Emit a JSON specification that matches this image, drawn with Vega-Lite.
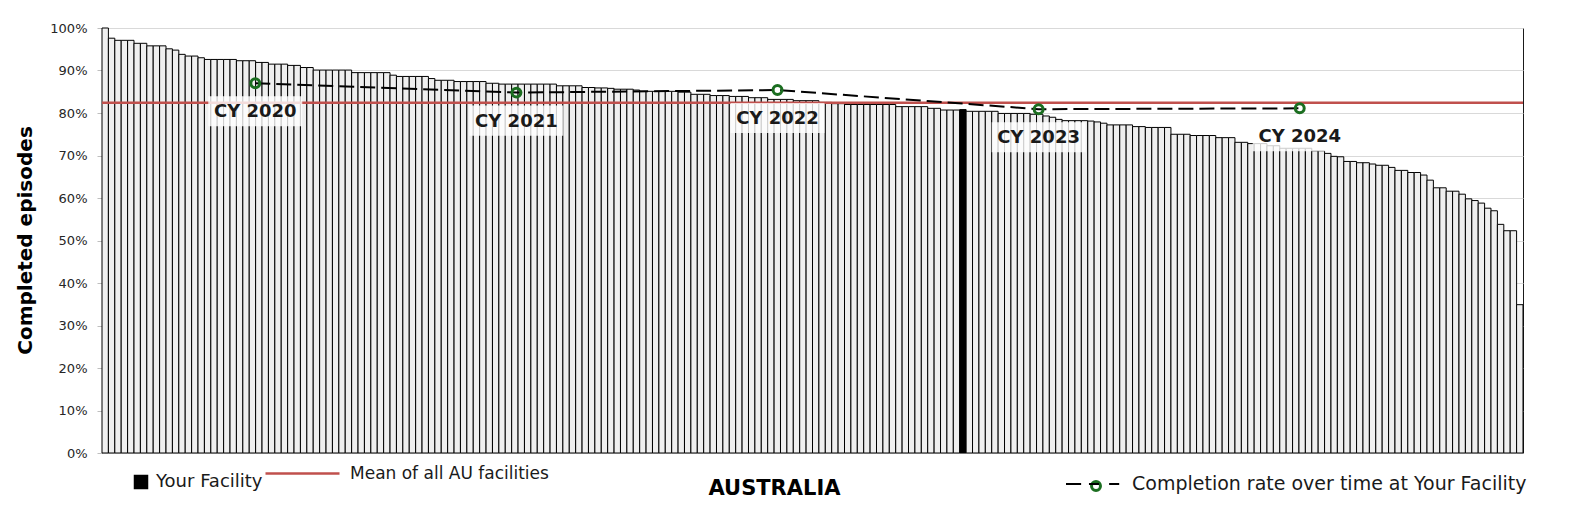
{
  "$schema": "https://vega.github.io/schema/vega-lite/v6.json",
  "width": 1421,
  "height": 425,
  "autosize": {"type": "none"},
  "padding": {"left": 102, "top": 28, "right": 53, "bottom": 75},
  "background": "#ffffff",
  "config": {
    "font": "DejaVu Sans",
    "view": {"stroke": "#1a1a1a", "strokeWidth": 1},
    "legend": {"padding": 0, "labelFont": "DejaVu Sans", "labelFontSize": 18, "labelColor": "#1a1a1a", "labelLimit": 600}
  },
  "datasets": {
    "facilities": [
      {"rank":1,"rate":100,"group":"Other"},{"rank":2,"rate":97.6,"group":"Other"},{"rank":3,"rate":97.1,"group":"Other"},{"rank":4,"rate":97.1,"group":"Other"},{"rank":5,"rate":97.1,"group":"Other"},{"rank":6,"rate":96.4,"group":"Other"},{"rank":7,"rate":96.4,"group":"Other"},{"rank":8,"rate":95.8,"group":"Other"},{"rank":9,"rate":95.8,"group":"Other"},{"rank":10,"rate":95.8,"group":"Other"},
      {"rank":11,"rate":95.1,"group":"Other"},{"rank":12,"rate":94.8,"group":"Other"},{"rank":13,"rate":93.8,"group":"Other"},{"rank":14,"rate":93.4,"group":"Other"},{"rank":15,"rate":93.4,"group":"Other"},{"rank":16,"rate":93.0,"group":"Other"},{"rank":17,"rate":92.6,"group":"Other"},{"rank":18,"rate":92.6,"group":"Other"},{"rank":19,"rate":92.6,"group":"Other"},{"rank":20,"rate":92.6,"group":"Other"},
      {"rank":21,"rate":92.6,"group":"Other"},{"rank":22,"rate":92.3,"group":"Other"},{"rank":23,"rate":92.3,"group":"Other"},{"rank":24,"rate":92.3,"group":"Other"},{"rank":25,"rate":91.9,"group":"Other"},{"rank":26,"rate":91.9,"group":"Other"},{"rank":27,"rate":91.5,"group":"Other"},{"rank":28,"rate":91.5,"group":"Other"},{"rank":29,"rate":91.5,"group":"Other"},{"rank":30,"rate":91.2,"group":"Other"},
      {"rank":31,"rate":91.2,"group":"Other"},{"rank":32,"rate":90.7,"group":"Other"},{"rank":33,"rate":90.7,"group":"Other"},{"rank":34,"rate":90.1,"group":"Other"},{"rank":35,"rate":90.1,"group":"Other"},{"rank":36,"rate":90.1,"group":"Other"},{"rank":37,"rate":90.1,"group":"Other"},{"rank":38,"rate":90.1,"group":"Other"},{"rank":39,"rate":90.1,"group":"Other"},{"rank":40,"rate":89.5,"group":"Other"},
      {"rank":41,"rate":89.5,"group":"Other"},{"rank":42,"rate":89.5,"group":"Other"},{"rank":43,"rate":89.5,"group":"Other"},{"rank":44,"rate":89.5,"group":"Other"},{"rank":45,"rate":89.5,"group":"Other"},{"rank":46,"rate":88.9,"group":"Other"},{"rank":47,"rate":88.6,"group":"Other"},{"rank":48,"rate":88.6,"group":"Other"},{"rank":49,"rate":88.6,"group":"Other"},{"rank":50,"rate":88.6,"group":"Other"},
      {"rank":51,"rate":88.6,"group":"Other"},{"rank":52,"rate":88.1,"group":"Other"},{"rank":53,"rate":87.7,"group":"Other"},{"rank":54,"rate":87.7,"group":"Other"},{"rank":55,"rate":87.7,"group":"Other"},{"rank":56,"rate":87.4,"group":"Other"},{"rank":57,"rate":87.4,"group":"Other"},{"rank":58,"rate":87.4,"group":"Other"},{"rank":59,"rate":87.4,"group":"Other"},{"rank":60,"rate":87.4,"group":"Other"},
      {"rank":61,"rate":87.0,"group":"Other"},{"rank":62,"rate":87.0,"group":"Other"},{"rank":63,"rate":86.8,"group":"Other"},{"rank":64,"rate":86.8,"group":"Other"},{"rank":65,"rate":86.8,"group":"Other"},{"rank":66,"rate":86.8,"group":"Other"},{"rank":67,"rate":86.8,"group":"Other"},{"rank":68,"rate":86.8,"group":"Other"},{"rank":69,"rate":86.8,"group":"Other"},{"rank":70,"rate":86.8,"group":"Other"},
      {"rank":71,"rate":86.8,"group":"Other"},{"rank":72,"rate":86.4,"group":"Other"},{"rank":73,"rate":86.4,"group":"Other"},{"rank":74,"rate":86.4,"group":"Other"},{"rank":75,"rate":86.4,"group":"Other"},{"rank":76,"rate":86.0,"group":"Other"},{"rank":77,"rate":86.0,"group":"Other"},{"rank":78,"rate":85.9,"group":"Other"},{"rank":79,"rate":85.9,"group":"Other"},{"rank":80,"rate":85.8,"group":"Other"},
      {"rank":81,"rate":85.6,"group":"Other"},{"rank":82,"rate":85.6,"group":"Other"},{"rank":83,"rate":85.6,"group":"Other"},{"rank":84,"rate":85.4,"group":"Other"},{"rank":85,"rate":85.1,"group":"Other"},{"rank":86,"rate":85.1,"group":"Other"},{"rank":87,"rate":85.1,"group":"Other"},{"rank":88,"rate":85.1,"group":"Other"},{"rank":89,"rate":85.1,"group":"Other"},{"rank":90,"rate":85.1,"group":"Other"},
      {"rank":91,"rate":84.9,"group":"Other"},{"rank":92,"rate":84.9,"group":"Other"},{"rank":93,"rate":84.4,"group":"Other"},{"rank":94,"rate":84.4,"group":"Other"},{"rank":95,"rate":84.4,"group":"Other"},{"rank":96,"rate":84.1,"group":"Other"},{"rank":97,"rate":84.1,"group":"Other"},{"rank":98,"rate":84.1,"group":"Other"},{"rank":99,"rate":83.9,"group":"Other"},{"rank":100,"rate":83.9,"group":"Other"},
      {"rank":101,"rate":83.9,"group":"Other"},{"rank":102,"rate":83.6,"group":"Other"},{"rank":103,"rate":83.6,"group":"Other"},{"rank":104,"rate":83.6,"group":"Other"},{"rank":105,"rate":83.2,"group":"Other"},{"rank":106,"rate":83.2,"group":"Other"},{"rank":107,"rate":83.2,"group":"Other"},{"rank":108,"rate":83.2,"group":"Other"},{"rank":109,"rate":82.9,"group":"Other"},{"rank":110,"rate":82.9,"group":"Other"},
      {"rank":111,"rate":82.9,"group":"Other"},{"rank":112,"rate":82.9,"group":"Other"},{"rank":113,"rate":82.5,"group":"Other"},{"rank":114,"rate":82.5,"group":"Other"},{"rank":115,"rate":82.2,"group":"Other"},{"rank":116,"rate":82.2,"group":"Other"},{"rank":117,"rate":82.0,"group":"Other"},{"rank":118,"rate":82.0,"group":"Other"},{"rank":119,"rate":82.0,"group":"Other"},{"rank":120,"rate":82.0,"group":"Other"},
      {"rank":121,"rate":82.0,"group":"Other"},{"rank":122,"rate":82.0,"group":"Other"},{"rank":123,"rate":82.0,"group":"Other"},{"rank":124,"rate":82.0,"group":"Other"},{"rank":125,"rate":81.5,"group":"Other"},{"rank":126,"rate":81.5,"group":"Other"},{"rank":127,"rate":81.5,"group":"Other"},{"rank":128,"rate":81.5,"group":"Other"},{"rank":129,"rate":81.5,"group":"Other"},{"rank":130,"rate":81.1,"group":"Other"},
      {"rank":131,"rate":81.1,"group":"Other"},{"rank":132,"rate":80.7,"group":"Other"},{"rank":133,"rate":80.7,"group":"Other"},{"rank":134,"rate":80.7,"group":"Other"},{"rank":135,"rate":80.8,"group":"Your Facility"},{"rank":136,"rate":80.4,"group":"Other"},{"rank":137,"rate":80.4,"group":"Other"},{"rank":138,"rate":80.4,"group":"Other"},{"rank":139,"rate":80.4,"group":"Other"},{"rank":140,"rate":80.4,"group":"Other"},
      {"rank":141,"rate":79.9,"group":"Other"},{"rank":142,"rate":79.9,"group":"Other"},{"rank":143,"rate":79.9,"group":"Other"},{"rank":144,"rate":79.9,"group":"Other"},{"rank":145,"rate":79.9,"group":"Other"},{"rank":146,"rate":79.7,"group":"Other"},{"rank":147,"rate":79.7,"group":"Other"},{"rank":148,"rate":79.3,"group":"Other"},{"rank":149,"rate":79.0,"group":"Other"},{"rank":150,"rate":78.5,"group":"Other"},
      {"rank":151,"rate":78.2,"group":"Other"},{"rank":152,"rate":78.2,"group":"Other"},{"rank":153,"rate":78.2,"group":"Other"},{"rank":154,"rate":78.2,"group":"Other"},{"rank":155,"rate":78.1,"group":"Other"},{"rank":156,"rate":77.9,"group":"Other"},{"rank":157,"rate":77.6,"group":"Other"},{"rank":158,"rate":77.2,"group":"Other"},{"rank":159,"rate":77.2,"group":"Other"},{"rank":160,"rate":77.2,"group":"Other"},
      {"rank":161,"rate":77.2,"group":"Other"},{"rank":162,"rate":76.8,"group":"Other"},{"rank":163,"rate":76.8,"group":"Other"},{"rank":164,"rate":76.6,"group":"Other"},{"rank":165,"rate":76.6,"group":"Other"},{"rank":166,"rate":76.6,"group":"Other"},{"rank":167,"rate":76.6,"group":"Other"},{"rank":168,"rate":75.0,"group":"Other"},{"rank":169,"rate":75.0,"group":"Other"},{"rank":170,"rate":75.0,"group":"Other"},
      {"rank":171,"rate":74.7,"group":"Other"},{"rank":172,"rate":74.7,"group":"Other"},{"rank":173,"rate":74.7,"group":"Other"},{"rank":174,"rate":74.7,"group":"Other"},{"rank":175,"rate":74.2,"group":"Other"},{"rank":176,"rate":74.2,"group":"Other"},{"rank":177,"rate":74.2,"group":"Other"},{"rank":178,"rate":73.1,"group":"Other"},{"rank":179,"rate":73.1,"group":"Other"},{"rank":180,"rate":72.8,"group":"Other"},
      {"rank":181,"rate":72.8,"group":"Other"},{"rank":182,"rate":72.8,"group":"Other"},{"rank":183,"rate":72.3,"group":"Other"},{"rank":184,"rate":72.3,"group":"Other"},{"rank":185,"rate":71.7,"group":"Other"},{"rank":186,"rate":71.7,"group":"Other"},{"rank":187,"rate":71.7,"group":"Other"},{"rank":188,"rate":71.7,"group":"Other"},{"rank":189,"rate":71.7,"group":"Other"},{"rank":190,"rate":71.1,"group":"Other"},
      {"rank":191,"rate":71.1,"group":"Other"},{"rank":192,"rate":70.5,"group":"Other"},{"rank":193,"rate":69.8,"group":"Other"},{"rank":194,"rate":69.7,"group":"Other"},{"rank":195,"rate":68.6,"group":"Other"},{"rank":196,"rate":68.6,"group":"Other"},{"rank":197,"rate":68.3,"group":"Other"},{"rank":198,"rate":68.3,"group":"Other"},{"rank":199,"rate":68.0,"group":"Other"},{"rank":200,"rate":67.7,"group":"Other"},
      {"rank":201,"rate":67.7,"group":"Other"},{"rank":202,"rate":67.2,"group":"Other"},{"rank":203,"rate":66.5,"group":"Other"},{"rank":204,"rate":66.5,"group":"Other"},{"rank":205,"rate":66.0,"group":"Other"},{"rank":206,"rate":66.0,"group":"Other"},{"rank":207,"rate":65.4,"group":"Other"},{"rank":208,"rate":64.2,"group":"Other"},{"rank":209,"rate":62.4,"group":"Other"},{"rank":210,"rate":62.4,"group":"Other"},
      {"rank":211,"rate":61.6,"group":"Other"},{"rank":212,"rate":61.6,"group":"Other"},{"rank":213,"rate":60.9,"group":"Other"},{"rank":214,"rate":59.8,"group":"Other"},{"rank":215,"rate":59.4,"group":"Other"},{"rank":216,"rate":58.8,"group":"Other"},{"rank":217,"rate":57.6,"group":"Other"},{"rank":218,"rate":57.0,"group":"Other"},{"rank":219,"rate":53.8,"group":"Other"},{"rank":220,"rate":52.3,"group":"Other"},
      {"rank":221,"rate":52.3,"group":"Other"},{"rank":222,"rate":34.9,"group":"Other"}
    ],
    "mean": [{"rate": 82.4, "label": "Mean of all AU facilities"}],
    "trend": [
      {"year": 2020, "rate": 87.0, "cy": "CY 2020", "series": "Completion rate over time at Your Facility"},
      {"year": 2021, "rate": 84.8, "cy": "CY 2021", "series": "Completion rate over time at Your Facility"},
      {"year": 2022, "rate": 85.4, "cy": "CY 2022", "series": "Completion rate over time at Your Facility"},
      {"year": 2023, "rate": 80.9, "cy": "CY 2023", "series": "Completion rate over time at Your Facility"},
      {"year": 2024, "rate": 81.1, "cy": "CY 2024", "series": "Completion rate over time at Your Facility"}
    ]
  },
  "resolve": {"scale": {"x": "independent", "stroke": "independent"}},
  "layer": [
    {
      "data": {"name": "facilities"},
      "mark": {"type": "bar", "stroke": "#000000", "strokeWidth": 1},
      "encoding": {
        "x": {
          "field": "rank", "type": "ordinal", "sort": null,
          "scale": {"paddingInner": 0, "paddingOuter": 0},
          "axis": {"labels": false, "ticks": false, "domain": false, "grid": false,
                   "title": "AUSTRALIA", "titleX": 672, "titleY": 35, "titleFontSize": 21,
                   "titleFontWeight": "bold", "titleBaseline": "middle", "titleAlign": "center", "titleColor": "#000000"}
        },
        "y": {
          "field": "rate", "type": "quantitative",
          "scale": {"domain": [0, 100], "nice": false},
          "axis": {"values": [0, 10, 20, 30, 40, 50, 60, 70, 80, 90, 100],
                   "labelExpr": "datum.value + '%'", "labelFontSize": 13, "labelColor": "#262626",
                   "labelPadding": 10, "tickSize": 5, "tickColor": "#bfbfbf", "domainColor": "#bfbfbf",
                   "grid": true, "gridColor": "#d9d9d9",
                   "title": "Completed episodes", "titleFontSize": 20, "titleFontWeight": "bold",
                   "titleColor": "#000000", "titleX": -77, "titleY": 212, "titleBaseline": "middle", "titleAlign": "center", "titleAngle": 270}
        },
        "fill": {
          "field": "group", "type": "nominal",
          "scale": {"domain": ["Your Facility", "Other"], "range": ["#000000", "#efefef"]},
          "legend": {"values": ["Your Facility"], "title": null, "orient": "none", "legendX": 30, "legendY": 445,
                     "symbolType": "square", "symbolSize": 169, "symbolStrokeColor": "#000000", "labelOffset": 6, "labelFontSize": 18}
        }
      }
    },
    {
      "data": {"name": "mean"},
      "mark": {"type": "rule", "strokeWidth": 2.5},
      "encoding": {
        "y": {"field": "rate", "type": "quantitative"},
        "stroke": {
          "field": "label", "type": "nominal",
          "scale": {"range": ["#c0504d"]},
          "legend": {"title": null, "orient": "none", "legendX": 162, "legendY": 407,
                     "symbolType": "stroke", "symbolSize": 5476, "symbolStrokeWidth": 2.5, "labelOffset": 9, "labelFontSize": 17}
        }
      }
    },
    {
      "data": {"name": "trend"},
      "layer": [
        {
          "mark": {"type": "point", "shape": "M-1,-0.32L1,-0.32L1,0.32L-1,0.32Z", "filled": true, "fill": "#ffffff", "opacity": 0.8, "strokeWidth": 0, "size": 8836, "yOffset": 28},
          "encoding": {
            "x": {"field": "year", "type": "quantitative", "scale": {"domain": [2019.413, 2024.855], "nice": false, "zero": false}, "axis": null},
            "y": {"field": "rate", "type": "quantitative"}
          }
        },
        {
          "mark": {"type": "text", "dy": 29, "baseline": "middle", "align": "center", "fontSize": 18, "fontWeight": "bold", "color": "#1a1a1a"},
          "encoding": {
            "x": {"field": "year", "type": "quantitative"},
            "y": {"field": "rate", "type": "quantitative"},
            "text": {"field": "cy", "type": "nominal"}
          }
        },
        {
          "mark": {"type": "line", "strokeWidth": 2, "strokeDash": [15, 6]},
          "encoding": {
            "x": {"field": "year", "type": "quantitative"},
            "y": {"field": "rate", "type": "quantitative"},
            "stroke": {
              "field": "series", "type": "nominal",
              "scale": {"range": ["#000000"]},
              "legend": {"title": null, "orient": "none", "legendX": 963, "legendY": 427,
                         "symbolType": "M-1,0L-0.46,0M-0.18,0L0.18,0M0.54,0L0.9,0", "symbolSize": 3136,
                         "symbolStrokeWidth": 2, "symbolStrokeColor": "#000000", "labelOffset": 9, "labelFontSize": 19}
            }
          }
        },
        {
          "mark": {"type": "point", "filled": false, "size": 80, "strokeWidth": 3, "stroke": "#1b6e20", "opacity": 1},
          "encoding": {
            "x": {"field": "year", "type": "quantitative"},
            "y": {"field": "rate", "type": "quantitative"},
            "shape": {
              "datum": "marker",
              "scale": {"range": ["circle"]},
              "legend": {"title": null, "orient": "none", "legendX": 985, "legendY": 449,
                         "symbolSize": 80, "symbolStrokeWidth": 3, "symbolStrokeColor": "#1b6e20", "symbolFillColor": "transparent",
                         "labelExpr": "''"}
            }
          }
        }
      ]
    }
  ]
}
